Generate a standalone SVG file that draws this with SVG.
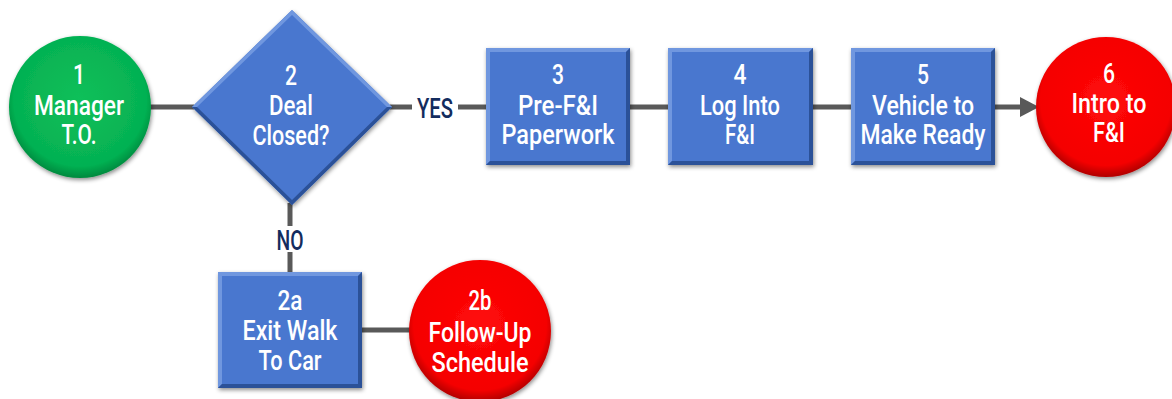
<svg xmlns="http://www.w3.org/2000/svg" width="1172" height="399" viewBox="0 0 1172 399">
<defs>
<style>
.t{font-family:Roboto,"Liberation Sans",Arial,sans-serif;font-size:28px;font-weight:500;fill:#ffffff;text-anchor:middle}
.lbl{font-family:Roboto,"Liberation Sans",Arial,sans-serif;font-size:28px;fill:#132c5e;text-anchor:middle;font-weight:500}
.con{stroke:#595959;stroke-width:5;fill:none}
.box{fill:#4877CF}
.hi{fill:#7097DF}
.lo{fill:#2B5198}
</style>
<filter id="sh" x="-20%" y="-20%" width="140%" height="140%">
<feDropShadow dx="1" dy="2" stdDeviation="2" flood-color="#000" flood-opacity="0.45"/>
</filter>
<radialGradient id="gG" cx="50%" cy="45%" r="55%">
<stop offset="0" stop-color="#0DC05A"/>
<stop offset="0.85" stop-color="#05B152"/>
<stop offset="1" stop-color="#02893E"/>
</radialGradient>
<radialGradient id="gR" cx="50%" cy="45%" r="55%">
<stop offset="0" stop-color="#FF0A0A"/>
<stop offset="0.85" stop-color="#F50000"/>
<stop offset="1" stop-color="#B00000"/>
</radialGradient>
</defs>

<g id="connectors">
<line class="con" x1="148" y1="107" x2="194" y2="107"/>
<line class="con" x1="390" y1="107" x2="412" y2="107"/>
<line class="con" x1="458" y1="107" x2="488" y2="107"/>
<line class="con" x1="628" y1="107" x2="670" y2="107"/>
<line class="con" x1="811" y1="107" x2="853" y2="107"/>
<line class="con" x1="993" y1="107" x2="1022" y2="107"/>
<polygon points="1020,97 1039,107 1020,117" fill="#595959"/>
<line class="con" x1="290" y1="203" x2="290" y2="226"/>
<line class="con" x1="290" y1="252" x2="290" y2="274"/>
<line class="con" x1="360" y1="330" x2="412" y2="330"/>
<text class="lbl" x="435" y="118" textLength="36" lengthAdjust="spacingAndGlyphs">YES</text>
<text class="lbl" x="290" y="250" textLength="27" lengthAdjust="spacingAndGlyphs">NO</text>
</g>

<g id="n1">
<circle cx="80" cy="107" r="71" fill="url(#gG)" filter="url(#sh)"/>
<text class="t" x="79" y="84" textLength="12" lengthAdjust="spacingAndGlyphs">1</text>
<text class="t" x="79" y="115" textLength="90" lengthAdjust="spacingAndGlyphs">Manager</text>
<text class="t" x="79" y="144" textLength="35" lengthAdjust="spacingAndGlyphs">T.O.</text>
</g>

<g id="n2">
<polygon points="292,10 392,107 292,205 192,107" class="box" filter="url(#sh)"/>
<polygon points="292,10 392,107 387,107 292,15 197,107 192,107" class="hi"/>
<polygon points="192,107 292,205 392,107 387,107 292,200 197,107" class="lo"/>
<text class="t" x="291" y="85" textLength="12" lengthAdjust="spacingAndGlyphs">2</text>
<text class="t" x="291" y="115" textLength="44" lengthAdjust="spacingAndGlyphs">Deal</text>
<text class="t" x="291" y="145" textLength="77" lengthAdjust="spacingAndGlyphs">Closed?</text>
</g>

<g id="n3">
<rect x="486" y="48" width="144" height="117" class="box" filter="url(#sh)"/>
<polygon points="486,48 630,48 626,52 490,52 490,161 486,165" class="hi"/>
<polygon points="630,48 630,165 486,165 490,161 626,161 626,52" class="lo"/>
<text class="t" x="558" y="84" textLength="12" lengthAdjust="spacingAndGlyphs">3</text>
<text class="t" x="558" y="115" textLength="80" lengthAdjust="spacingAndGlyphs">Pre-F&amp;I</text>
<text class="t" x="558" y="144" textLength="113" lengthAdjust="spacingAndGlyphs">Paperwork</text>
</g>

<g id="n4">
<rect x="668" y="48" width="145" height="117" class="box" filter="url(#sh)"/>
<polygon points="668,48 813,48 809,52 672,52 672,161 668,165" class="hi"/>
<polygon points="813,48 813,165 668,165 672,161 809,161 809,52" class="lo"/>
<text class="t" x="740" y="84" textLength="13" lengthAdjust="spacingAndGlyphs">4</text>
<text class="t" x="740" y="115" textLength="80" lengthAdjust="spacingAndGlyphs">Log Into</text>
<text class="t" x="740" y="144" textLength="30" lengthAdjust="spacingAndGlyphs">F&amp;I</text>
</g>

<g id="n5">
<rect x="851" y="48" width="144" height="117" class="box" filter="url(#sh)"/>
<polygon points="851,48 995,48 991,52 855,52 855,161 851,165" class="hi"/>
<polygon points="995,48 995,165 851,165 855,161 991,161 991,52" class="lo"/>
<text class="t" x="923" y="84" textLength="12" lengthAdjust="spacingAndGlyphs">5</text>
<text class="t" x="923" y="115" textLength="102" lengthAdjust="spacingAndGlyphs">Vehicle to</text>
<text class="t" x="923" y="144" textLength="125" lengthAdjust="spacingAndGlyphs">Make Ready</text>
</g>

<g id="n6">
<circle cx="1106" cy="107" r="70" fill="url(#gR)" filter="url(#sh)"/>
<text class="t" x="1109" y="83" textLength="12" lengthAdjust="spacingAndGlyphs">6</text>
<text class="t" x="1109" y="113" textLength="75" lengthAdjust="spacingAndGlyphs">Intro to</text>
<text class="t" x="1109" y="142" textLength="32" lengthAdjust="spacingAndGlyphs">F&amp;I</text>
</g>

<g id="n2a">
<rect x="218" y="272" width="144" height="116" class="box" filter="url(#sh)"/>
<polygon points="218,272 362,272 358,276 222,276 222,384 218,388" class="hi"/>
<polygon points="362,272 362,388 218,388 222,384 358,384 358,276" class="lo"/>
<text class="t" x="290" y="310" textLength="25" lengthAdjust="spacingAndGlyphs">2a</text>
<text class="t" x="290" y="340" textLength="95" lengthAdjust="spacingAndGlyphs">Exit Walk</text>
<text class="t" x="290" y="370" textLength="63" lengthAdjust="spacingAndGlyphs">To Car</text>
</g>

<g id="n2b">
<circle cx="480" cy="331" r="71" fill="url(#gR)" filter="url(#sh)"/>
<text class="t" x="480" y="310" textLength="23" lengthAdjust="spacingAndGlyphs">2b</text>
<text class="t" x="480" y="342" textLength="103" lengthAdjust="spacingAndGlyphs">Follow-Up</text>
<text class="t" x="480" y="372" textLength="97" lengthAdjust="spacingAndGlyphs">Schedule</text>
</g>
</svg>
